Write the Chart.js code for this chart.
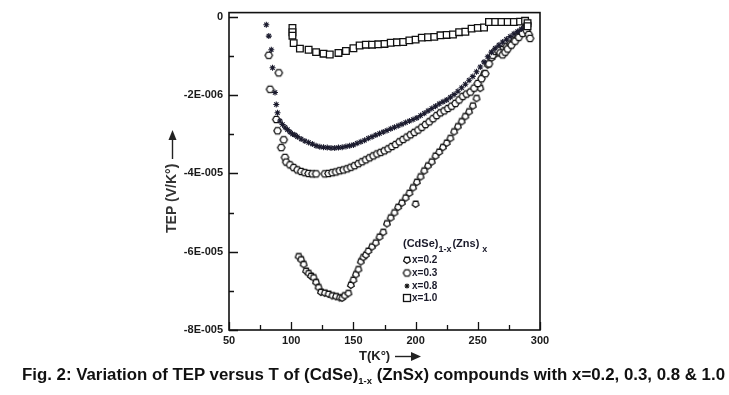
<!DOCTYPE html>
<html>
<head>
<meta charset="utf-8">
<script src="https://cdn.jsdelivr.net/npm/chart.js@4/dist/chart.umd.min.js"></script>
<style>
  html, body { margin: 0; padding: 0; background: #fff; }
  #wrap { position: relative; width: 729px; height: 395px; overflow: hidden; }
  #cap {
    position: absolute; left: 22px; top: 366px;
    font: bold 16px "Liberation Sans", Arial, sans-serif; color: #111;
    white-space: nowrap; transform-origin: 0 0;
  }
  #cap sub { font-size: 9px; }
</style>
</head>
<body>
<div id="wrap">
  <canvas id="chart" width="729" height="395"></canvas>
  <div id="cap">Fig. 2: Variation of TEP versus T of (CdSe)<sub>1-x</sub> (ZnSx) compounds with x=0.2, 0.3, 0.8 &amp; 1.0</div>
</div>
<script>
// TEP values are in units of 1E-5 V/K
const T_x02 = [106,108,110,112,114,116,118,120,122,124,127,130,133,136,139,141,143,146,148,150,152,154,156,158,160,162,165,168,171,174,177,180,183,186,189,192,195,198,200,201,204,207,210,213,216,219,222,225,228,231,234,237,240,243,246,249,252,255,258,261,264,267,270,273,276,279,282,285,288,290];
const TEP_x02 = [-6.12,-6.20,-6.32,-6.49,-6.55,-6.62,-6.66,-6.78,-6.91,-7.03,-7.05,-7.08,-7.12,-7.14,-7.17,-7.18,-7.12,-7.06,-6.85,-6.72,-6.58,-6.45,-6.25,-6.14,-6.08,-5.98,-5.87,-5.77,-5.62,-5.50,-5.28,-5.13,-5.00,-4.86,-4.75,-4.62,-4.50,-4.36,-4.78,-4.22,-4.08,-3.93,-3.80,-3.70,-3.55,-3.45,-3.33,-3.22,-3.10,-2.93,-2.80,-2.67,-2.54,-2.42,-2.27,-2.08,-1.82,-1.45,-1.22,-1.05,-0.95,-0.88,-0.82,-0.75,-0.68,-0.60,-0.50,-0.38,-0.25,-0.15];

const T_x03 = [82,83,88,89,90,92,94,95,96,99,102,105,108,111,114,117,120,127,130,133,136,139,142,145,148,151,154,157,160,163,166,169,172,175,178,181,184,187,190,193,196,199,202,205,208,211,214,217,220,223,226,229,232,235,238,241,244,247,250,253,256,259,262,264,266,268,270,272,274,277,280,283,286,289,291,292];
const TEP_x03 = [-0.98,-1.85,-2.62,-2.91,-1.43,-3.34,-3.14,-3.59,-3.71,-3.78,-3.85,-3.91,-3.95,-3.98,-4.00,-4.01,-4.01,-4.01,-4.00,-3.98,-3.96,-3.93,-3.91,-3.88,-3.84,-3.80,-3.75,-3.70,-3.65,-3.60,-3.55,-3.50,-3.46,-3.42,-3.37,-3.31,-3.26,-3.19,-3.13,-3.07,-3.01,-2.95,-2.89,-2.82,-2.75,-2.68,-2.60,-2.52,-2.45,-2.40,-2.34,-2.28,-2.21,-2.12,-2.03,-1.97,-1.92,-1.82,-1.70,-1.58,-1.45,-1.20,-0.98,-0.88,-0.85,-0.92,-0.97,-0.90,-0.82,-0.72,-0.62,-0.52,-0.42,-0.34,-0.45,-0.55];

const T_x08 = [80,82,84,85,87,88,89,91,93,95,97,99,101,103,105,108,111,114,117,120,123,126,129,132,135,138,141,144,147,150,153,156,159,162,165,168,171,174,177,180,183,186,189,192,195,198,201,204,207,210,213,216,219,222,225,228,231,234,237,240,243,246,249,252,255,258,261,264,267,270,273,276,279,282,285,288,290];
const TEP_x08 = [-0.20,-0.49,-0.84,-1.30,-1.93,-2.24,-2.45,-2.66,-2.75,-2.82,-2.88,-2.94,-2.99,-3.02,-3.06,-3.12,-3.17,-3.21,-3.25,-3.29,-3.32,-3.33,-3.34,-3.35,-3.35,-3.34,-3.33,-3.31,-3.29,-3.27,-3.23,-3.19,-3.15,-3.10,-3.06,-3.02,-2.98,-2.94,-2.90,-2.86,-2.82,-2.78,-2.74,-2.70,-2.66,-2.62,-2.58,-2.52,-2.46,-2.40,-2.34,-2.28,-2.22,-2.17,-2.12,-2.05,-1.98,-1.90,-1.81,-1.72,-1.62,-1.52,-1.40,-1.28,-1.15,-1.02,-0.90,-0.80,-0.72,-0.64,-0.57,-0.50,-0.43,-0.37,-0.31,-0.25,-0.18];

const T_x10 = [101,101,101,102,107,114,120,126,131,138,144,150,155,160,165,170,175,180,185,190,195,200,205,210,215,220,225,230,235,240,245,250,255,259,264,269,274,279,284,288,290,290];
const TEP_x10 = [-0.28,-0.39,-0.48,-0.67,-0.81,-0.84,-0.90,-0.94,-0.96,-0.92,-0.87,-0.80,-0.73,-0.71,-0.71,-0.70,-0.69,-0.66,-0.65,-0.64,-0.60,-0.58,-0.53,-0.52,-0.51,-0.47,-0.46,-0.45,-0.39,-0.38,-0.30,-0.28,-0.27,-0.13,-0.13,-0.13,-0.13,-0.13,-0.12,-0.10,-0.16,-0.24];

const seriesNames = ['x=0.2', 'x=0.3', 'x=0.8', 'x=1.0'];
const xTickValues = [50, 100, 150, 200, 250, 300];
const yTickValues = [0, -2, -4, -6, -8];
const yTickLabels = ['0', '-2E-006', '-4E-005', '-6E-005', '-8E-005'];

function polyMarker(sides, r, rot) {
    const c = document.createElement('canvas');
    const s = Math.ceil(2 * r + 3);
    c.width = s; c.height = s;
    const g = c.getContext('2d');
    g.beginPath();
    for (let i = 0; i < sides; i++) {
        const a = rot + i * 2 * Math.PI / sides;
        const px = s / 2 + r * Math.cos(a), py = s / 2 + r * Math.sin(a);
        if (i === 0) g.moveTo(px, py); else g.lineTo(px, py);
    }
    g.closePath();
    g.fillStyle = '#fff';
    g.fill();
    g.strokeStyle = '#111';
    g.lineWidth = 1.3;
    g.stroke();
    return c;
}

const pentaMark = polyMarker(5, 3.5, 0.35);
const hexMark = polyMarker(6, 3.7, 0);

function pts(xs, ys) {
    return xs.map((t, i) => ({ x: t, y: ys[i] }));
}

function drawStar(ctx, x, y, r) {
    ctx.beginPath();
    for (let i = 0; i < 4; i++) {
        const a = i * Math.PI / 4;
        ctx.moveTo(x - r * Math.cos(a), y - r * Math.sin(a));
        ctx.lineTo(x + r * Math.cos(a), y + r * Math.sin(a));
    }
    ctx.stroke();
}

const decor = {
    id: 'decor',
    afterDraw(chart) {
        const { ctx, chartArea: a, scales: { x, y } } = chart;
        ctx.save();
        ctx.strokeStyle = '#111';
        ctx.lineWidth = 1.6;
        ctx.strokeRect(a.left, a.top, a.right - a.left, a.bottom - a.top);

        // inward ticks, long at labelled values
        ctx.lineWidth = 1.3;
        ctx.beginPath();
        y.ticks.forEach(t => {
            const py = Math.round(y.getPixelForValue(t.value)) + 0.5;
            const len = t.label ? 9 : 5;
            ctx.moveTo(a.left, py);
            ctx.lineTo(a.left + len, py);
        });
        x.ticks.forEach(t => {
            const px = Math.round(x.getPixelForValue(t.value)) + 0.5;
            const len = t.label ? 8 : 5;
            ctx.moveTo(px, a.bottom);
            ctx.lineTo(px, a.bottom - len);
        });
        ctx.stroke();

        // x axis title with arrow
        ctx.fillStyle = '#222';
        ctx.font = 'bold 13px "Liberation Sans", Arial, sans-serif';
        ctx.textAlign = 'left';
        ctx.textBaseline = 'middle';
        ctx.fillText('T(K°)', 359, 356);
        ctx.lineWidth = 1.4;
        ctx.strokeStyle = '#222';
        ctx.beginPath();
        ctx.moveTo(395, 356.5);
        ctx.lineTo(414, 356.5);
        ctx.stroke();
        ctx.beginPath();
        ctx.moveTo(421, 356.5);
        ctx.lineTo(411, 352);
        ctx.lineTo(411, 361);
        ctx.closePath();
        ctx.fill();

        // y axis title with arrow
        ctx.save();
        ctx.translate(172, 233);
        ctx.rotate(-Math.PI / 2);
        ctx.fillStyle = '#333';
        ctx.font = 'bold 14px "Liberation Sans", Arial, sans-serif';
        ctx.fillText('TEP (V/K°)', 0, 0);
        ctx.strokeStyle = '#222';
        ctx.beginPath();
        ctx.moveTo(74, 0.5);
        ctx.lineTo(96, 0.5);
        ctx.stroke();
        ctx.fillStyle = '#222';
        ctx.beginPath();
        ctx.moveTo(103, 0.5);
        ctx.lineTo(93, -3.5);
        ctx.lineTo(93, 4.5);
        ctx.closePath();
        ctx.fill();
        ctx.restore();

        // legend
        ctx.fillStyle = '#1a1a2a';
        ctx.textBaseline = 'alphabetic';
        ctx.font = 'bold 11px "Liberation Sans", Arial, sans-serif';
        let lx = 403;
        ctx.fillText('(CdSe)', lx, 247);
        lx += ctx.measureText('(CdSe)').width;
        ctx.font = 'bold 9px "Liberation Sans", Arial, sans-serif';
        ctx.fillText('1-x', lx, 252);
        lx += ctx.measureText('1-x').width + 1;
        ctx.font = 'bold 11px "Liberation Sans", Arial, sans-serif';
        ctx.fillText('(Zns)', lx, 247);
        lx += ctx.measureText('(Zns)').width + 3;
        ctx.font = 'bold 9px "Liberation Sans", Arial, sans-serif';
        ctx.fillText('x', lx, 252);

        const rows = [260, 273, 286, 298];
        ctx.font = 'bold 10px "Liberation Sans", Arial, sans-serif';
        ctx.textBaseline = 'middle';
        rows.forEach((ry, i) => {
            const mx = 407;
            if (i === 0) ctx.drawImage(pentaMark, mx - pentaMark.width / 2, ry - pentaMark.height / 2);
            if (i === 1) ctx.drawImage(hexMark, mx - hexMark.width / 2, ry - hexMark.height / 2);
            if (i === 2) { ctx.strokeStyle = '#111'; ctx.lineWidth = 1.1; drawStar(ctx, mx, ry, 2.5); }
            if (i === 3) { ctx.strokeStyle = '#111'; ctx.lineWidth = 1.3; ctx.strokeRect(mx - 3.5, ry - 3.5, 7, 7); }
            ctx.fillStyle = '#1a1a2a';
            ctx.fillText(seriesNames[i], 412, ry + 0.5);
        });
        ctx.restore();
    }
};

const tickFont = { family: '"Liberation Sans", Arial, sans-serif', size: 11, weight: 'bold' };

new Chart(document.getElementById('chart'), {
    type: 'scatter',
    data: {
        datasets: [
            {
                label: seriesNames[3],
                data: pts(T_x10, TEP_x10),
                pointStyle: 'rect',
                pointRadius: 4.7,
                backgroundColor: '#fff',
                borderColor: '#111',
                borderWidth: 1.3,
            },
            {
                label: seriesNames[2],
                data: pts(T_x08, TEP_x08),
                pointStyle: 'star',
                pointRadius: 3,
                borderColor: '#1b1b2e',
                borderWidth: 1.1,
            },
            {
                label: seriesNames[1],
                data: pts(T_x03, TEP_x03),
                pointStyle: hexMark,
                pointRadius: 3,
            },
            {
                label: seriesNames[0],
                data: pts(T_x02, TEP_x02),
                pointStyle: pentaMark,
                pointRadius: 3,
            },
        ]
    },
    options: {
        responsive: false,
        devicePixelRatio: 1,
        animation: false,
        events: [],
        layout: { padding: { left: 0, top: 8, right: 189, bottom: 0 } },
        plugins: {
            legend: { display: false },
            tooltip: { enabled: false },
        },
        scales: {
            x: {
                type: 'linear',
                min: 50,
                max: 300,
                afterFit: s => { s.height = 65; },
                grid: { display: false, drawTicks: false },
                border: { display: false },
                ticks: {
                    stepSize: 25,
                    padding: 4,
                    color: '#1a1a1a',
                    font: tickFont,
                    maxRotation: 0,
                    autoSkip: false,
                    callback: v => xTickValues.includes(v) ? String(v) : '',
                },
            },
            y: {
                type: 'linear',
                min: -8,
                max: 0.11,
                afterFit: s => { s.width = 229; },
                grid: { display: false, drawTicks: false },
                border: { display: false },
                ticks: {
                    stepSize: 1,
                    includeBounds: false,
                    padding: 6,
                    color: '#1a1a1a',
                    font: tickFont,
                    autoSkip: false,
                    callback: v => {
                        const i = yTickValues.indexOf(Math.round(v * 100) / 100);
                        return i >= 0 ? yTickLabels[i] : '';
                    },
                },
            },
        },
    },
    plugins: [decor],
});

const cap = document.getElementById('cap');
const w = cap.getBoundingClientRect().width;
cap.style.transform = 'scaleX(' + (703 / w) + ')';
</script>
</body>
</html>
